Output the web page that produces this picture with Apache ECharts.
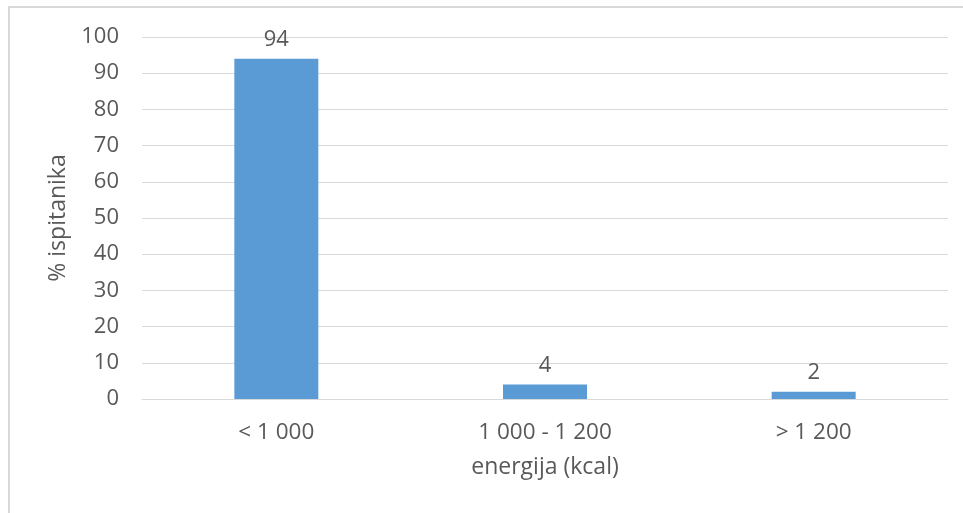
<!DOCTYPE html>
<html><head><meta charset="utf-8">
<script src="https://cdn.jsdelivr.net/npm/echarts@6/dist/echarts.min.js"></script>
<style>html,body{margin:0;padding:0;background:#fff}#c{width:963px;height:513px}</style>
</head><body><div id="c"></div>
<script>
const categories = ['< 1 000', '1 000 - 1 200', '> 1 200'];
const values = [94, 4, 2];
const yTicks = {min: 0, max: 100, interval: 10};
const xName = 'energija (kcal)';
const yName = '% ispitanika';

const font = '"Open Sans", "Liberation Sans", sans-serif';
const txt = '#595959';
const chart = echarts.init(document.getElementById('c'), null, {renderer: 'canvas'});
chart.setOption({
  animation: false,
  backgroundColor: '#fff',
  textStyle: {fontFamily: font},
  graphic: [{type: 'rect', shape: {x: 9, y: 7, width: 1000, height: 1000},
    style: {fill: 'none', stroke: '#d9d9d9', lineWidth: 2}, silent: true}],
  grid: {left: 142, right: 15, top: 37, bottom: 114, containLabel: false},
  xAxis: {
    type: 'category', data: categories,
    name: xName, nameLocation: 'middle', nameGap: 57,
    nameTextStyle: {color: txt, fontSize: 23, fontFamily: font},
    axisLine: {show: true, lineStyle: {color: '#d9d9d9', width: 1}},
    axisTick: {show: false},
    axisLabel: {color: txt, fontSize: 22.5, margin: 22, fontFamily: font}
  },
  yAxis: {
    type: 'value', min: yTicks.min, max: yTicks.max, interval: yTicks.interval,
    name: yName, nameLocation: 'middle', nameGap: 66, nameRotate: 90,
    nameTextStyle: {color: txt, fontSize: 23, fontFamily: font},
    axisLine: {show: false}, axisTick: {show: false},
    axisLabel: {color: txt, fontSize: 22, margin: 23, fontFamily: font},
    splitLine: {lineStyle: {color: '#d9d9d9', width: 1}}
  },
  series: [{
    type: 'bar', data: values, barWidth: 84,
    itemStyle: {color: '#5b9bd5'},
    label: {show: true, position: 'top', distance: 8, color: txt, fontSize: 22, fontFamily: font}
  }]
});
</script></body></html>
